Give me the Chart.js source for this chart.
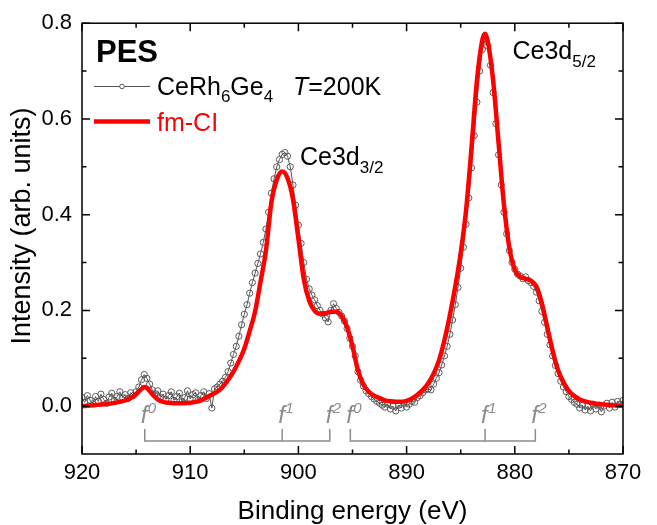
<!DOCTYPE html>
<html>
<head>
<meta charset="utf-8">
<script src="https://cdn.jsdelivr.net/npm/chart.js@4/dist/chart.umd.min.js"></script>
<style>
    body { margin: 0; background: #fff; }
</style>
</head>
<body>
<canvas id="pes" width="657" height="525"></canvas>
<script>
const startEnergy = 920;
const energyStep = 0.25;
const measured = [
    0.018, 0.008, 0.022, 0.012,   // 920
    0.005, 0.020, 0.010, 0.025,   // 919
    0.014, 0.006, 0.019, 0.027,   // 918
    0.012, 0.020, 0.030, 0.018,   // 917
    0.024, 0.016, 0.028, 0.022,   // 916
    0.030, 0.040, 0.055, 0.066,   // 915
    0.058, 0.046, 0.034, 0.026,   // 914
    0.032, 0.018, 0.025, 0.014,   // 913
    0.022, 0.030, 0.012, 0.020,   // 912
    0.027, 0.010, 0.018, 0.032,   // 911
    0.015, 0.024, 0.028, 0.013,   // 910
    0.022, 0.030, 0.016, 0.026,   // 909
    -0.004, 0.036, 0.040, 0.046,  // 908
    0.052, 0.060, 0.072, 0.090,   // 907
    0.108, 0.125, 0.146, 0.170,   // 906
    0.192, 0.212, 0.236, 0.258,   // 905
    0.278, 0.298, 0.318, 0.342,   // 904
    0.370, 0.405, 0.445, 0.475,   // 903
    0.500, 0.515, 0.526, 0.530,   // 902
    0.522, 0.500, 0.462, 0.420,   // 901
    0.378, 0.340, 0.300, 0.265,   // 900
    0.245, 0.232, 0.222, 0.210,   // 899
    0.200, 0.192, 0.184, 0.176,   // 898
    0.200, 0.214, 0.204, 0.196,   // 897
    0.188, 0.178, 0.162, 0.142,   // 896
    0.125, 0.105, 0.072, 0.054,   // 895
    0.042, 0.032, 0.026, 0.020,   // 894
    0.015, 0.010, 0.006, 0.002,   // 893
    -0.002, 0.004, -0.006, 0.000, // 892
    -0.010, 0.002, -0.004, 0.006, // 891
    -0.002, 0.004, 0.010, 0.008,  // 890
    0.018, 0.022, 0.028, 0.034,   // 889
    0.036, 0.034, 0.046, 0.058,   // 888
    0.070, 0.086, 0.105, 0.125,   // 887
    0.150, 0.180, 0.212, 0.248,   // 886
    0.288, 0.332, 0.380, 0.435,   // 885
    0.498, 0.565, 0.635, 0.700,   // 884
    0.745, 0.765, 0.752, 0.712,   // 883
    0.655, 0.590, 0.525, 0.462,   // 882
    0.405, 0.360, 0.325, 0.300,   // 881
    0.286, 0.276, 0.272, 0.266,   // 880
    0.270, 0.262, 0.258, 0.250,   // 879
    0.238, 0.220, 0.198, 0.175,   // 878
    0.150, 0.128, 0.105, 0.085,   // 877
    0.068, 0.052, 0.040, 0.030,   // 876
    0.020, 0.014, 0.008, 0.004,   // 875
    -0.004, 0.002, -0.008, 0.000, // 874
    -0.010, 0.004, -0.006, 0.002, // 873
    -0.012, 0.000, 0.006, -0.004, // 872
    0.008, -0.002, 0.010, 0.004,  // 871
    0.012                         // 870
];

// fm-CI calculation [energy, intensity]
const fitCurve = [
    [920, 0.000], [919.5, 0.001], [919, 0.002], [918.5, 0.003], [918, 0.004],
    [917.5, 0.005], [917, 0.007], [916.5, 0.009], [916, 0.012], [915.5, 0.017],
    [915, 0.025], [914.5, 0.036], [914.25, 0.040], [914, 0.038], [913.5, 0.025],
    [913, 0.014], [912.5, 0.009], [912, 0.007], [911.5, 0.006], [911, 0.006],
    [910.5, 0.006], [910, 0.007], [909.5, 0.009], [909, 0.012], [908.5, 0.018],
    [908, 0.024], [907.5, 0.030], [907, 0.040], [906.5, 0.055], [906, 0.072],
    [905.5, 0.094], [905, 0.120], [904.5, 0.157], [904, 0.198], [903.5, 0.260],
    [903, 0.325], [902.5, 0.425], [902, 0.473], [901.5, 0.490], [901, 0.476],
    [900.5, 0.432], [900, 0.350], [899.5, 0.265], [899, 0.220], [898.5, 0.199],
    [898, 0.193], [897.5, 0.194], [897, 0.197], [896.5, 0.197], [896, 0.188],
    [895.5, 0.165], [895, 0.125], [894.5, 0.075], [894, 0.045], [893.5, 0.030],
    [893, 0.022], [892.5, 0.017], [892, 0.012], [891.5, 0.010], [891, 0.009],
    [890.5, 0.009], [890, 0.011], [889.5, 0.016], [889, 0.024], [888.5, 0.034],
    [888, 0.048], [887.5, 0.068], [887, 0.096], [886.5, 0.138], [886, 0.190],
    [885.5, 0.250], [885, 0.320], [884.5, 0.410], [884, 0.540], [883.5, 0.680],
    [883, 0.765], [882.75, 0.778], [882.5, 0.762], [882, 0.680], [881.5, 0.550],
    [881, 0.420], [880.5, 0.330], [880, 0.285], [879.5, 0.270], [879, 0.266],
    [878.5, 0.262], [878, 0.250], [877.5, 0.215], [877, 0.165], [876.5, 0.115],
    [876, 0.075], [875.5, 0.050], [875, 0.032], [874.5, 0.021], [874, 0.014],
    [873.5, 0.010], [873, 0.007], [872.5, 0.005], [872, 0.004], [871.5, 0.003],
    [871, 0.002], [870.5, 0.001], [870, 0.001]
];

const xTicks = [920, 910, 900, 890, 880, 870];
const xMinorTicks = [915, 905, 895, 885, 875];
const yTicks = [0, 0.2, 0.4, 0.6, 0.8];
const yMinorTicks = [0.1, 0.3, 0.5, 0.7];

// f0 / f1 / f2 final states for each spin-orbit component (eV)
const markers3_2 = [914.2, 901.5, 897.1];
const markers5_2 = [895.2, 882.75, 878.1];

const FONT = '"Liberation Sans", Arial, Helvetica, sans-serif';
const GREY = '#8c8c8c';

function drawParts(ctx, x, y, parts) {
    parts.forEach(p => {
        ctx.font = p.font;
        ctx.fillStyle = p.color || '#000';
        ctx.fillText(p.text, x, y + (p.dy || 0));
        x += ctx.measureText(p.text).width;
    });
}

function drawBracket(ctx, xs, bottom, energies) {
    const px = energies.map(e => xs.getPixelForValue(e));
    const base = bottom - 13;
    const top = bottom - 25;
    ctx.strokeStyle = GREY;
    ctx.lineWidth = 1.5;
    ctx.beginPath();
    ctx.moveTo(px[0], top);
    ctx.lineTo(px[0], base);
    ctx.lineTo(px[2], base);
    ctx.lineTo(px[2], top);
    ctx.moveTo(px[1], base);
    ctx.lineTo(px[1], top);
    ctx.stroke();

    ctx.textAlign = 'left';
    ctx.textBaseline = 'alphabetic';
    px.forEach((p, i) => {
        ctx.fillStyle = GREY;
        ctx.font = 'italic 24px ' + FONT;
        ctx.fillText('f', p - 4, bottom - 31);
        ctx.font = 'italic 15px ' + FONT;
        ctx.fillText(String(i), p + 3, bottom - 41);
    });
}

const decor = {
    id: 'decor',
    afterDatasetsDraw(chart) {
        const ctx = chart.ctx;
        const { left, right, top, bottom } = chart.chartArea;
        const xs = chart.scales.x;
        const ys = chart.scales.y;
        ctx.save();

        // frame and inward ticks on all four sides
        ctx.strokeStyle = '#000';
        ctx.lineWidth = 1.5;
        ctx.strokeRect(left, top, right - left, bottom - top);
        ctx.beginPath();
        const xTick = (v, len) => {
            const p = xs.getPixelForValue(v);
            ctx.moveTo(p, bottom); ctx.lineTo(p, bottom - len);
            ctx.moveTo(p, top); ctx.lineTo(p, top + len);
        };
        const yTick = (v, len) => {
            const p = ys.getPixelForValue(v);
            ctx.moveTo(left, p); ctx.lineTo(left + len, p);
            ctx.moveTo(right, p); ctx.lineTo(right - len, p);
        };
        xTicks.forEach(v => xTick(v, 8));
        xMinorTicks.forEach(v => xTick(v, 4.5));
        yTicks.forEach(v => yTick(v, 8));
        yMinorTicks.forEach(v => yTick(v, 4.5));
        ctx.stroke();

        // final-state brackets
        drawBracket(ctx, xs, bottom, markers3_2);
        drawBracket(ctx, xs, bottom, markers5_2);

        // peak labels
        ctx.textAlign = 'left';
        ctx.textBaseline = 'alphabetic';
        drawParts(ctx, 300, 165, [
            { text: 'Ce3d', font: '25px ' + FONT },
            { text: '3/2', font: '17px ' + FONT, dy: 8 }
        ]);
        drawParts(ctx, 512.5, 58.5, [
            { text: 'Ce3d', font: '25px ' + FONT },
            { text: '5/2', font: '17px ' + FONT, dy: 8 }
        ]);

        // PES title + legend
        drawParts(ctx, 96, 61.5, [{ text: 'PES', font: 'bold 31px ' + FONT }]);

        ctx.strokeStyle = '#555';
        ctx.lineWidth = 1;
        ctx.beginPath();
        ctx.moveTo(94, 86.5); ctx.lineTo(150, 86.5);
        ctx.stroke();
        ctx.beginPath();
        ctx.arc(122, 86.5, 2.3, 0, Math.PI * 2);
        ctx.fillStyle = '#fff';
        ctx.fill();
        ctx.stroke();
        drawParts(ctx, 157, 95, [
            { text: 'CeRh', font: '25px ' + FONT },
            { text: '6', font: '17px ' + FONT, dy: 7 },
            { text: 'Ge', font: '25px ' + FONT },
            { text: '4', font: '17px ' + FONT, dy: 7 }
        ]);
        drawParts(ctx, 293, 95, [
            { text: 'T', font: 'italic 25px ' + FONT },
            { text: '=200K', font: '25px ' + FONT }
        ]);

        ctx.strokeStyle = '#ff0000';
        ctx.lineWidth = 4.5;
        ctx.beginPath();
        ctx.moveTo(94, 121.5); ctx.lineTo(150, 121.5);
        ctx.stroke();
        drawParts(ctx, 157, 130.5, [{ text: 'fm-CI', font: '25px ' + FONT, color: '#ff0000' }]);

        // axis titles
        ctx.fillStyle = '#000';
        ctx.font = '26px ' + FONT;
        ctx.textAlign = 'center';
        ctx.fillText('Binding energy (eV)', (left + right) / 2, 519);
        ctx.save();
        ctx.translate(23, 226);
        ctx.rotate(-Math.PI / 2);
        ctx.textBaseline = 'middle';
        ctx.font = '27px ' + FONT;
        ctx.fillText('Intensity (arb. units)', 0, 0);
        ctx.restore();

        ctx.restore();
    }
};

new Chart(document.getElementById('pes'), {
    type: 'scatter',
    data: {
        datasets: [
            {
                label: 'fm-CI',
                data: fitCurve.map(([x, y]) => ({ x, y })),
                showLine: true,
                borderColor: '#ff0000',
                borderWidth: 4.5,
                pointRadius: 0,
                cubicInterpolationMode: 'monotone',
                order: 0
            },
            {
                label: 'CeRh6Ge4',
                data: measured.map((y, i) => ({ x: startEnergy - i * energyStep, y })),
                showLine: true,
                borderColor: '#555',
                borderWidth: 1,
                pointRadius: 3.1,
                pointBorderWidth: 1,
                pointBorderColor: '#5a5a5a',
                pointBackgroundColor: 'rgba(255,255,255,0)',
                order: 1
            }
        ]
    },
    options: {
        responsive: false,
        animation: false,
        events: [],
        layout: { padding: { top: 18, right: 34, left: 0, bottom: 0 } },
        plugins: {
            legend: { display: false },
            tooltip: { enabled: false }
        },
        scales: {
            x: {
                type: 'linear',
                reverse: true,
                min: 870,
                max: 920,
                grid: { display: false, drawTicks: false },
                border: { display: false },
                afterBuildTicks: s => { s.ticks = xTicks.map(v => ({ value: v })); },
                afterFit: s => { s.height = 71; },
                ticks: {
                    font: { family: FONT, size: 22 },
                    color: '#000',
                    padding: 6,
                    maxRotation: 0,
                    autoSkip: false,
                    callback: v => String(v)
                }
            },
            y: {
                type: 'linear',
                min: -0.1,
                max: 0.8,
                grid: { display: false, drawTicks: false },
                border: { display: false },
                afterBuildTicks: s => { s.ticks = yTicks.map(v => ({ value: v })); },
                afterFit: s => { s.width = 82; },
                ticks: {
                    font: { family: FONT, size: 22 },
                    color: '#000',
                    padding: 10,
                    autoSkip: false,
                    callback: v => v.toFixed(1)
                }
            }
        }
    },
    plugins: [decor]
});
</script>
</body>
</html>
